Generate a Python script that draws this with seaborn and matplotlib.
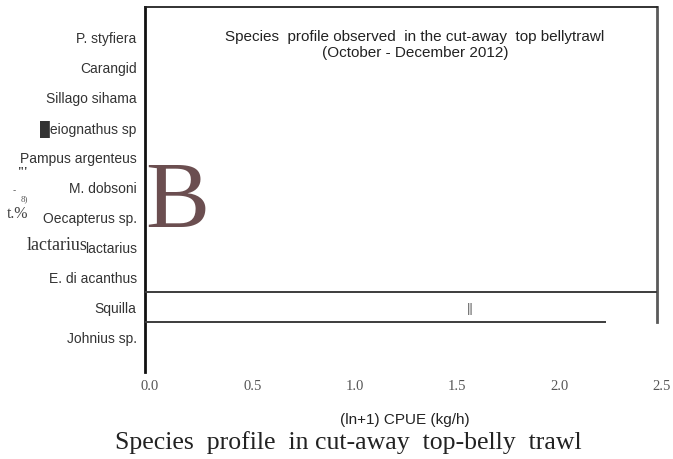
import matplotlib
matplotlib.use("Agg")
import matplotlib.pyplot as plt
import matplotlib.transforms as mtransforms
import seaborn as sns
import pandas as pd

# Species caught (top to bottom) and their (ln+1) CPUE in kg/h
species = ["P. stylifera", "Carangid", "Sillago sihama", "Leiognathus sp",
           "Pampus argenteus", "M. dobsoni", "Decapterus sp.",
           "Lactarius lactarius", "E. diacanthus", "Squilla", "Johnius sp."]
tick_labels = ["P. styfiera", "Carangid", "Sillago sihama", "\u2588eiognathus sp",
               "Pampus argenteus", "M. dobsoni", "Oecapterus sp.",
               "lactarius", "E. di acanthus", "Squilla", "Johnius sp."]
cpue = [0, 0, 0, 0, 0, 0, 0, 0, 0, 2.5, 2.25]
x_ticks = [0.0, 0.5, 1.0, 1.5, 2.0, 2.5]
x_tick_labels = ["0.0", "0.5", "1.0", "1.5", "2.0", "2.5"]

df = pd.DataFrame({"species": species, "cpue": cpue})

sns.set_theme(style="white")
plt.rcParams["font.family"] = ["Liberation Sans", "DejaVu Sans"]

W, H = 673, 460
fig = plt.figure(figsize=(W / 100, H / 100), dpi=100)
fig.patch.set_facecolor("white")
ax = fig.add_axes([145 / W, 1 - 373 / H, 512 / W, 365 / H])
ax.set_facecolor("white")

sns.barplot(data=df, x="cpue", y="species", orient="h", width=1.0,
            color="white", linewidth=0, ax=ax)

# Only the upper edge of every bar is inked
edge_col = "#3c3c3c"
bars = [p for p in ax.patches if p.get_width() > 0]
for p in bars:
    ax.hlines(p.get_y(), 0, p.get_width(), color=edge_col, lw=1.4, zorder=3)

ax.set_xlim(0, 2.5)
ax.set_ylim(11.17, -1)

# Frame: heavy left axis, top rule, right rule ending at the widest bar
ax.spines["bottom"].set_visible(False)
ax.spines["left"].set_color("#111111")
ax.spines["left"].set_linewidth(2.0)
ax.spines["top"].set_color("#222222")
ax.spines["top"].set_linewidth(1.3)
widest = max(bars, key=lambda p: p.get_width())
ax.spines["right"].set_color("#5a5a5a")
ax.spines["right"].set_linewidth(2.0)
ax.spines["right"].set_bounds(-1, widest.get_y() + widest.get_height())

ax.set_yticks(range(len(species)))
ax.set_yticklabels(tick_labels, fontsize=10, color="#333333")
ax.tick_params(axis="y", length=0, pad=6)

ax.set_xticks(x_ticks)
ax.set_xticklabels(x_tick_labels, family=["Liberation Serif", "DejaVu Serif"],
                   fontsize=10.5, color="#555555")
ax.tick_params(axis="x", length=0, pad=5)
shift = mtransforms.ScaledTranslation(5 / 100, 0, fig.dpi_scale_trans)
for lbl in ax.get_xticklabels():
    lbl.set_transform(lbl.get_transform() + shift)

ax.set_xlabel("")
ax.set_ylabel("")


def fx(px):
    return px / W


def fy(py):
    return 1 - py / H


serif = ["Liberation Serif", "DejaVu Serif"]

# Serif first word of the Lactarius label
fig.text(fx(88), fy(246), "lactarius", family=serif, fontsize=13,
         color="#333333", ha="right", va="center")

# Title block inside the plot
fig.text(fx(415), fy(45),
         "Species  profile observed  in the cut-away  top bellytrawl\n(October - December 2012)",
         ha="center", va="center", fontsize=11, color="#222222", linespacing=1.1)

# Panel letter
fig.text(fx(145), fy(205), "B", family=serif, fontsize=69, color="#6b4e50",
         ha="left", va="center")

# Marker inside the Squilla bar
fig.text(fx(470), fy(309), "||", fontsize=9.5, color="#666666", ha="center", va="center")

# Residual y-axis label marks
fig.text(fx(22), fy(172), "'''", family=serif, fontsize=9, color="#333333",
         ha="center", va="center", fontweight="bold")
fig.text(fx(14), fy(190), "-", fontsize=7, color="#555555", ha="center", va="center")
fig.text(fx(24), fy(199), "8)", family=serif, fontsize=6.5, color="#555555",
         ha="center", va="center")
fig.text(fx(18), fy(214), "t.%", family=serif, fontsize=11.5, color="#444444",
         ha="center", va="center")

# Axis title and caption
fig.text(fx(405), fy(420), "(ln+1) CPUE (kg/h)", ha="center", va="center",
         fontsize=11, color="#222222")
fig.text(fx(348), fy(443), "Species  profile  in cut-away  top-belly  trawl",
         family=serif, fontsize=18.5, color="#222222", ha="center", va="center")

fig.savefig("out.png", dpi=100, facecolor="white")
